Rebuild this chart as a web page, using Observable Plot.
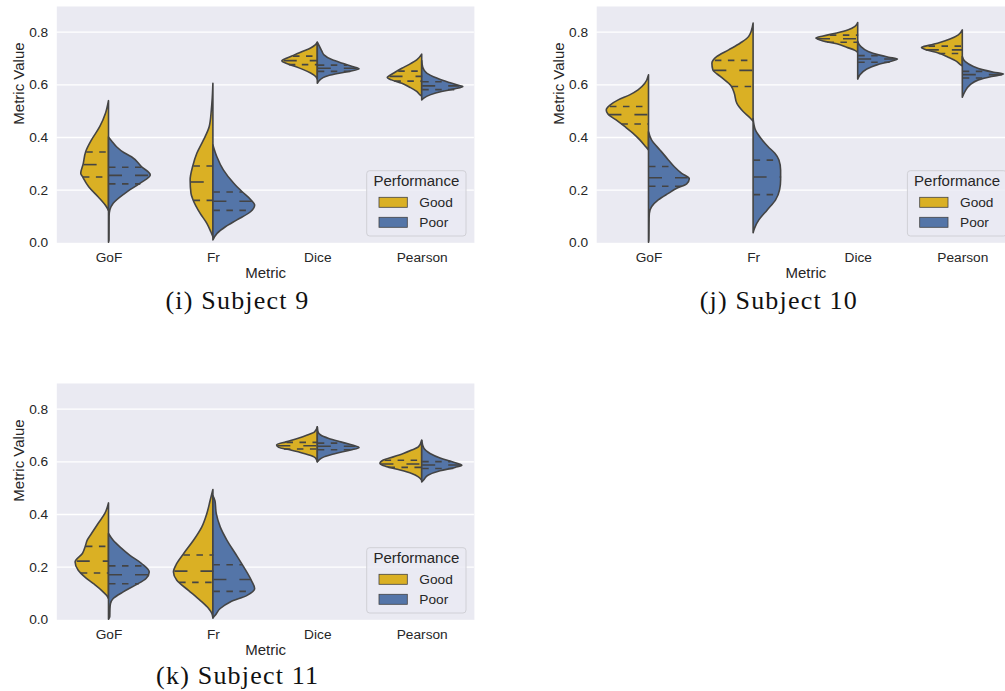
<!DOCTYPE html>
<html><head><meta charset="utf-8">
<script src="https://cdn.jsdelivr.net/npm/d3@7"></script>
<script src="https://cdn.jsdelivr.net/npm/@observablehq/plot@0.6"></script>
<style>
html,body{margin:0;padding:0;background:#fff;overflow:hidden;width:1005px;height:691px}
#root{position:relative;width:1005px;height:691px;overflow:hidden}
.panel{position:absolute}
.panel svg{display:block;overflow:visible;max-width:none !important;height:auto}
.caption{position:absolute;font-family:"Liberation Serif","Times New Roman",serif;font-size:26px;line-height:22px;color:#111;white-space:nowrap;transform:translateX(-50%);letter-spacing:1.2px}
</style></head><body><div id="root"></div>
<script>
const metrics = ["GoF", "Fr", "Dice", "Pearson"];
const groups = ["Good", "Poor"];
const groupColors = ["#DAB024", "#5475A8"];
const yTicks = [0, 0.2, 0.4, 0.6, 0.8];
const captions = ["(i) Subject 9", "(j) Subject 10", "(k) Subject 11"];

// Violin half profiles: [metric value, half-width in category units], per metric (GoF, Fr, Dice, Pearson)
const s9Good = [
  [[0.12,0],[0.135,0.02],[0.173,0.10],[0.211,0.19],[0.25,0.25],[0.262,0.266],[0.297,0.243],[0.345,0.218],[0.389,0.163],[0.44,0.083],[0.49,0.029],[0.538,0]],
  [[0.021,0],[0.04,0.02],[0.072,0.058],[0.11,0.122],[0.161,0.19],[0.186,0.21],[0.237,0.218],[0.291,0.192],[0.338,0.154],[0.389,0.09],[0.44,0.035],[0.503,0.015],[0.55,0.006],[0.604,0]],
  [[0.62,0],[0.63,0.016],[0.643,0.064],[0.655,0.128],[0.668,0.21],[0.68,0.30],[0.689,0.34],[0.70,0.29],[0.712,0.22],[0.725,0.144],[0.738,0.064],[0.75,0.02],[0.76,0]],
  [[0.555,0],[0.56,0.016],[0.573,0.048],[0.588,0.11],[0.604,0.19],[0.617,0.29],[0.626,0.33],[0.633,0.31],[0.646,0.256],[0.661,0.19],[0.674,0.128],[0.693,0.048],[0.715,0]]
];
const s9Poor = [
  [[0,0],[0.01,0.005],[0.1,0.006],[0.123,0.013],[0.148,0.045],[0.186,0.157],[0.224,0.30],[0.256,0.40],[0.287,0.317],[0.325,0.22],[0.34,0.15],[0.363,0.077],[0.385,0.03],[0.40,0]],
  [[0.009,0],[0.034,0.04],[0.059,0.12],[0.085,0.23],[0.116,0.36],[0.142,0.40],[0.161,0.365],[0.192,0.28],[0.224,0.2],[0.275,0.10],[0.325,0.038],[0.37,0]],
  [[0.604,0],[0.617,0.026],[0.63,0.08],[0.639,0.17],[0.649,0.30],[0.659,0.40],[0.668,0.336],[0.68,0.24],[0.693,0.144],[0.712,0.064],[0.725,0.045],[0.745,0.02],[0.76,0]],
  [[0.541,0],[0.548,0.02],[0.56,0.08],[0.573,0.19],[0.583,0.32],[0.592,0.394],[0.598,0.336],[0.608,0.256],[0.624,0.144],[0.643,0.048],[0.665,0.01],[0.69,0]]
];
const s10Good = [
  [[0.351,0],[0.363,0.026],[0.389,0.083],[0.414,0.147],[0.44,0.228],[0.465,0.31],[0.487,0.388],[0.503,0.404],[0.522,0.365],[0.541,0.29],[0.56,0.18],[0.579,0.10],[0.604,0.035],[0.636,0]],
  [[0.46,0],[0.471,0.026],[0.497,0.095],[0.528,0.155],[0.566,0.18],[0.594,0.21],[0.63,0.314],[0.655,0.385],[0.68,0.394],[0.706,0.346],[0.731,0.234],[0.757,0.122],[0.782,0.042],[0.833,0]],
  [[0.721,0],[0.729,0.026],[0.741,0.106],[0.754,0.2],[0.765,0.33],[0.776,0.40],[0.784,0.33],[0.795,0.2],[0.807,0.09],[0.82,0.026],[0.835,0]],
  [[0.67,0],[0.674,0.016],[0.687,0.055],[0.703,0.135],[0.719,0.23],[0.731,0.343],[0.74,0.39],[0.749,0.31],[0.759,0.215],[0.772,0.118],[0.788,0.038],[0.807,0]]
];
const s10Poor = [
  [[0,0],[0.01,0.004],[0.09,0.006],[0.11,0.008],[0.135,0.029],[0.161,0.093],[0.186,0.19],[0.205,0.27],[0.222,0.365],[0.241,0.39],[0.262,0.317],[0.287,0.247],[0.313,0.19],[0.351,0.109],[0.389,0.029],[0.42,0]],
  [[0.036,0],[0.053,0.013],[0.085,0.055],[0.123,0.135],[0.161,0.215],[0.199,0.253],[0.237,0.263],[0.275,0.263],[0.313,0.247],[0.338,0.208],[0.363,0.144],[0.389,0.087],[0.427,0.022],[0.47,0]],
  [[0.62,0],[0.636,0.022],[0.658,0.087],[0.674,0.183],[0.687,0.31],[0.696,0.38],[0.703,0.295],[0.712,0.2],[0.725,0.10],[0.744,0.029],[0.763,0]],
  [[0.551,0],[0.573,0.026],[0.598,0.074],[0.617,0.154],[0.63,0.28],[0.639,0.394],[0.646,0.3],[0.655,0.2],[0.668,0.106],[0.687,0.026],[0.706,0]]
];
const s11Good = [
  [[0.078,0],[0.091,0.019],[0.11,0.067],[0.136,0.147],[0.161,0.228],[0.186,0.29],[0.218,0.32],[0.25,0.25],[0.279,0.221],[0.30,0.205],[0.326,0.163],[0.364,0.10],[0.402,0.035],[0.442,0]],
  [[0.005,0],[0.022,0.01],[0.041,0.041],[0.072,0.122],[0.11,0.234],[0.148,0.346],[0.18,0.378],[0.212,0.346],[0.25,0.28],[0.30,0.186],[0.351,0.106],[0.402,0.058],[0.452,0.026],[0.493,0]],
  [[0.598,0],[0.605,0.005],[0.617,0.032],[0.63,0.128],[0.643,0.256],[0.653,0.37],[0.662,0.39],[0.674,0.30],[0.687,0.19],[0.70,0.096],[0.712,0.026],[0.731,0]],
  [[0.528,0],[0.541,0.032],[0.554,0.096],[0.569,0.224],[0.582,0.353],[0.592,0.40],[0.605,0.368],[0.617,0.272],[0.63,0.176],[0.643,0.096],[0.655,0.032],[0.68,0]]
];
const s11Poor = [
  [[0,0],[0.01,0.012],[0.04,0.014],[0.06,0.019],[0.079,0.045],[0.104,0.141],[0.129,0.253],[0.155,0.36],[0.18,0.39],[0.212,0.317],[0.243,0.205],[0.275,0.109],[0.30,0.045],[0.326,0]],
  [[0.005,0],[0.015,0.022],[0.041,0.07],[0.066,0.166],[0.091,0.327],[0.117,0.40],[0.148,0.368],[0.199,0.295],[0.25,0.215],[0.30,0.135],[0.351,0.07],[0.402,0.032],[0.45,0.02],[0.47,0]],
  [[0.598,0],[0.605,0.016],[0.617,0.064],[0.63,0.176],[0.643,0.32],[0.653,0.40],[0.662,0.336],[0.674,0.224],[0.687,0.11],[0.70,0.032],[0.715,0.005],[0.731,0]],
  [[0.522,0],[0.528,0.016],[0.548,0.064],[0.564,0.176],[0.577,0.32],[0.585,0.385],[0.589,0.368],[0.601,0.27],[0.613,0.176],[0.63,0.08],[0.649,0.022],[0.68,0]]
];

// Quartiles [q1, median, q3] per metric
const s9GoodQ  = [[0.25,0.297,0.345],[0.161,0.231,0.292],[0.677,0.692,0.709],[0.614,0.632,0.652]];
const s9PoorQ  = [[0.224,0.256,0.287],[0.123,0.158,0.193],[0.651,0.663,0.675],[0.582,0.596,0.612]];
const s10GoodQ = [[0.451,0.487,0.518],[0.594,0.655,0.693],[0.762,0.775,0.789],[0.719,0.733,0.747]];
const s10PoorQ = [[0.215,0.247,0.29],[0.183,0.25,0.314],[0.686,0.698,0.711],[0.626,0.639,0.651]];
const s11GoodQ = [[0.178,0.223,0.279],[0.142,0.185,0.246],[0.649,0.661,0.674],[0.579,0.592,0.606]];
const s11PoorQ = [[0.137,0.171,0.205],[0.108,0.153,0.209],[0.646,0.659,0.671],[0.575,0.588,0.601]];

const FONT = "'Liberation Sans', Arial, sans-serif";
const INK = "#262626";
const LINE = "#444444";

function widthAt(profile, v) {
  for (let k = 1; k < profile.length; k++) {
    const [v0, w0] = profile[k - 1], [v1, w1] = profile[k];
    if (v >= v0 && v <= v1) return w0 + (w1 - w0) * (v - v0) / (v1 - v0);
  }
  return 0;
}

function makePanel(good, poor, goodQ, poorQ, W, H, ml, mr, mt, mb, ymax) {
  const shapes = [];
  const qLines = [];
  [[good, goodQ, groups[0], -1], [poor, poorQ, groups[1], 1]].forEach(([profs, qs, g, s]) => {
    profs.forEach((prof, i) => {
      prof.forEach(([v, w]) => shapes.push({key: g + i, group: g, v, c: i, edge: i + s * w}));
      qs[i].forEach((q, k) => {
        const w = widthAt(prof, q);
        qLines.push({q, median: k === 1, xa: s < 0 ? i - w : i, xb: s < 0 ? i : i + w});
      });
    });
  });
  const svg = Plot.plot({
    width: W, height: H,
    marginLeft: ml, marginRight: mr, marginTop: mt, marginBottom: mb,
    style: {fontFamily: FONT, fontSize: "13.7px", color: INK, background: "transparent", overflow: "visible", maxWidth: "none"},
    x: {domain: [-0.5, 3.5], axis: null},
    y: {domain: [0, ymax], axis: null},
    color: {domain: groups, range: groupColors},
    marks: [
      Plot.frame({fill: "#EAEAF2", stroke: "none"}),
      Plot.gridY(yTicks.filter(t => t > 0), {stroke: "#ffffff", strokeOpacity: 1, strokeWidth: 1.3}),
      Plot.areaX(shapes, {y: "v", x1: "c", x2: "edge", z: "key", fill: "group", fillOpacity: 1,
        stroke: LINE, strokeWidth: 1.6, strokeLinejoin: "round", curve: "monotone-y"}),
      Plot.link(qLines.filter(d => !d.median), {x1: "xa", x2: "xb", y1: "q", y2: "q",
        stroke: LINE, strokeWidth: 1.6, strokeDasharray: "6.5,6.5"}),
      Plot.link(qLines.filter(d => d.median), {x1: "xa", x2: "xb", y1: "q", y2: "q",
        stroke: LINE, strokeWidth: 1.6, strokeDasharray: "13,13"}),
      Plot.axisY({ticks: yTicks, tickSize: 0, tickPadding: 8.6, tickFormat: d3.format(".1f"), label: null, fill: INK, fontSize: 13.7}),
      Plot.axisX({ticks: [0, 1, 2, 3], tickSize: 0, tickPadding: 9.5, tickFormat: i => metrics[i], label: null, fill: INK, fontSize: 13.7}),
      Plot.text(["Metric"], {frameAnchor: "bottom", lineAnchor: "top", dy: 24.5, fontSize: 15, fill: INK}),
      Plot.text(["Metric Value"], {frameAnchor: "left", rotate: -90, dx: -37.8, fontSize: 15, fill: INK})
    ]
  });
  // legend inside the frame (lower right)
  const R = W - mr, B = H - mb;
  const g = d3.select(svg).append("g").attr("font-family", FONT).attr("fill", INK).attr("text-anchor", "start");
  g.append("rect").attr("x", R - 107.2).attr("y", B - 71.6).attr("width", 99.3).attr("height", 65.3)
    .attr("rx", 3).attr("fill", "#EAEAF2").attr("fill-opacity", 0.8).attr("stroke", "#d0d0d6").attr("stroke-width", 1);
  g.append("text").attr("x", R - 107.2 + 49.65).attr("y", B - 55.9).attr("text-anchor", "middle")
    .attr("font-size", 15).text("Performance");
  groups.forEach((name, k) => {
    g.append("rect").attr("x", R - 94.9).attr("y", B - 45 + 20 * k).attr("width", 28.3).attr("height", 10)
      .attr("fill", groupColors[k]).attr("stroke", LINE).attr("stroke-width", 0.8);
    g.append("text").attr("x", R - 54.6).attr("y", B - 35.2 + 20 * k).attr("text-anchor", "start")
      .attr("font-size", 13.7).text(name);
  });
  return svg;
}

const root = document.getElementById("root");
const panels = [
  {good: s9Good, poor: s9Poor, gq: s9GoodQ, pq: s9PoorQ, left: 0, top: 0, W: 480, ml: 56.3, mr: 6.1, cx: 237.5, base: 309.5},
  {good: s10Good, poor: s10Poor, gq: s10GoodQ, pq: s10PoorQ, left: 520, top: 0, W: 500, ml: 76.2, mr: 5.4, cx: 778.8, base: 309.5},
  {good: s11Good, poor: s11Poor, gq: s11GoodQ, pq: s11PoorQ, left: 0, top: 376.7, W: 480, ml: 56.3, mr: 6.1, cx: 237.7, base: 684.3}
];
panels.forEach((p, idx) => {
  const div = document.createElement("div");
  div.className = "panel";
  div.style.left = p.left + "px";
  div.style.top = p.top + "px";
  div.style.width = p.W + "px";
  div.style.height = "285px";
  div.appendChild(makePanel(p.good, p.poor, p.gq, p.pq, p.W, 285, p.ml, p.mr, 6, 42.7, 0.8976));
  root.appendChild(div);
  const cap = document.createElement("div");
  cap.className = "caption";
  cap.textContent = captions[idx];
  cap.style.left = p.cx + "px";
  cap.style.top = (p.base - 19.5) + "px";
  root.appendChild(cap);
});
</script></body></html>
